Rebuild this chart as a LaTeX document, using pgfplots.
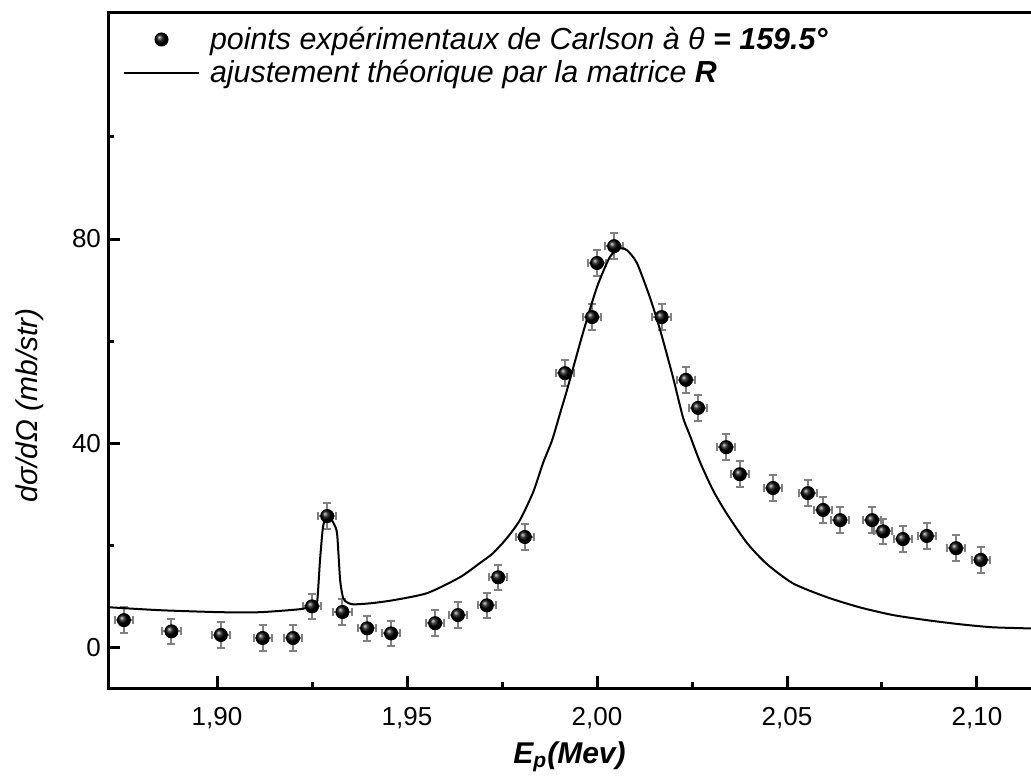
\documentclass[border=0pt]{standalone}
\usepackage{fontspec}
\setmainfont{Liberation Sans}
\usepackage{pgfplots}
\pgfplotsset{compat=1.18}
\usetikzlibrary{shadings}
\begin{document}
\begin{tikzpicture}
\path[use as bounding box] (-54pt,-47.5pt) rectangle (461.5pt,344pt);
\begin{axis}[
  at={(0pt,0pt)}, anchor=south west,
  scale only axis, width=464.5pt, height=337.5pt,
  xmin=1.8713, xmax=2.1158, ymin=-8, ymax=124.3,
  axis line style={line width=1.5pt},
  xtick={1.90,1.95,2.00,2.05,2.10}, minor x tick num=1,
  ytick={0,40,80}, minor ytick={20,60,100},
  xtick pos=bottom, ytick pos=left,
  xtick align=inside, ytick align=inside,
  major tick length=6pt, minor tick length=3pt,
  every tick/.style={black, line width=1.5pt},
  x tick label style={yshift=-6pt, /pgf/number format/.cd, use comma, fixed, fixed zerofill, precision=2},
  /pgf/number format/assume math mode=true,
  tick label style={font=\fontsize{13}{15}\selectfont},
  xlabel={\textbf{\textit{E\textsubscript{p}(Mev)}}},
  ylabel={\textit{dσ/dΩ (mb/str)}},
  label style={font=\fontsize{15}{17}\selectfont},
  xlabel style={at={(axis description cs:0.4968,-0.102)}, anchor=center},
  ylabel style={at={(axis description cs:-0.0839,0.419)}, anchor=center},
  legend style={at={(axis description cs:0.0093,0.992)}, anchor=north west,
    draw=none, fill=none, font=\fontsize{15.2}{15.2}\selectfont, row sep=0pt, column sep=3pt},
  legend cell align=left,
]
\addplot[only marks, mark=ball, mark size=3.3pt, mark options={ball color=black},
  legend image code/.code={\draw[mark=ball, mark size=3.3pt, mark options={ball color=black}] plot coordinates {(18.75pt,0pt)};},
  error bars/.cd, x dir=both, x fixed=0.0024, y dir=both, y fixed=2.5,
  error bar style={gray, line width=1pt},
  error mark options={gray, mark size=2pt, line width=1pt, rotate=90},
  ]
  coordinates {(1.8755,5.3) (1.888,3.1) (1.901,2.4) (1.912,1.8) (1.920,1.8) (1.925,8.0) (1.929,25.7) (1.933,6.9) (1.9395,3.7) (1.9458,2.7) (1.9574,4.7) (1.9634,6.3) (1.971,8.2) (1.974,13.7) (1.981,21.6) (1.9916,53.7) (1.9987,64.7) (2.000,75.3) (2.0045,78.6) (2.017,64.7) (2.0234,52.4) (2.0266,46.9) (2.034,39.2) (2.0376,33.9) (2.0463,31.2) (2.0555,30.2) (2.0595,26.9) (2.064,24.9) (2.0724,24.9) (2.0753,22.7) (2.0805,21.2) (2.0868,21.8) (2.0945,19.4) (2.101,17.1)};
\addlegendentry{\textit{points expérimentaux de Carlson à θ \textbf{= 159.5°}}}
\addplot[black, line width=1pt, mark=none, smooth, tension=0.4,
  legend image code/.code={\draw[black, line width=1pt] (0pt,0pt) -- (37.5pt,0pt);}]
  coordinates {(1.8713,7.84) (1.8850,7.25) (1.9011,6.86) (1.9113,6.86) (1.9218,7.45) (1.9250,8.04) (1.9263,8.63) (1.9271,17.1) (1.9279,23.7) (1.9287,25.1) (1.9292,25.3) (1.9300,25.1) (1.9308,24.1) (1.9316,22.2) (1.9324,13.1) (1.9332,9.6) (1.9342,8.8) (1.9358,8.4) (1.9403,8.6) (1.9463,9.2) (1.9553,10.6) (1.9639,13.7) (1.9692,16.5) (1.9726,18.4) (1.9763,21.4) (1.9797,24.9) (1.9832,30.4) (1.9858,36.1) (1.9882,40.6) (1.9903,45.9) (1.9921,50.4) (1.9963,61.6) (2.0000,70.6) (2.0034,76.5) (2.0061,78.2) (2.0079,77.8) (2.0105,75.3) (2.0139,68.6) (2.0166,62.2) (2.0200,52.9) (2.0226,45.1) (2.0245,41.4) (2.0271,36.3) (2.0305,30.8) (2.0342,26.1) (2.0395,20.4) (2.0447,16.3) (2.0516,12.5) (2.0605,9.8) (2.0692,7.8) (2.0779,6.3) (2.0868,5.3) (2.0955,4.5) (2.1042,3.9) (2.1158,3.65)};
\addlegendentry{\textit{ajustement théorique par la matrice \textbf{R}}}
\end{axis}
\end{tikzpicture}
\end{document}
